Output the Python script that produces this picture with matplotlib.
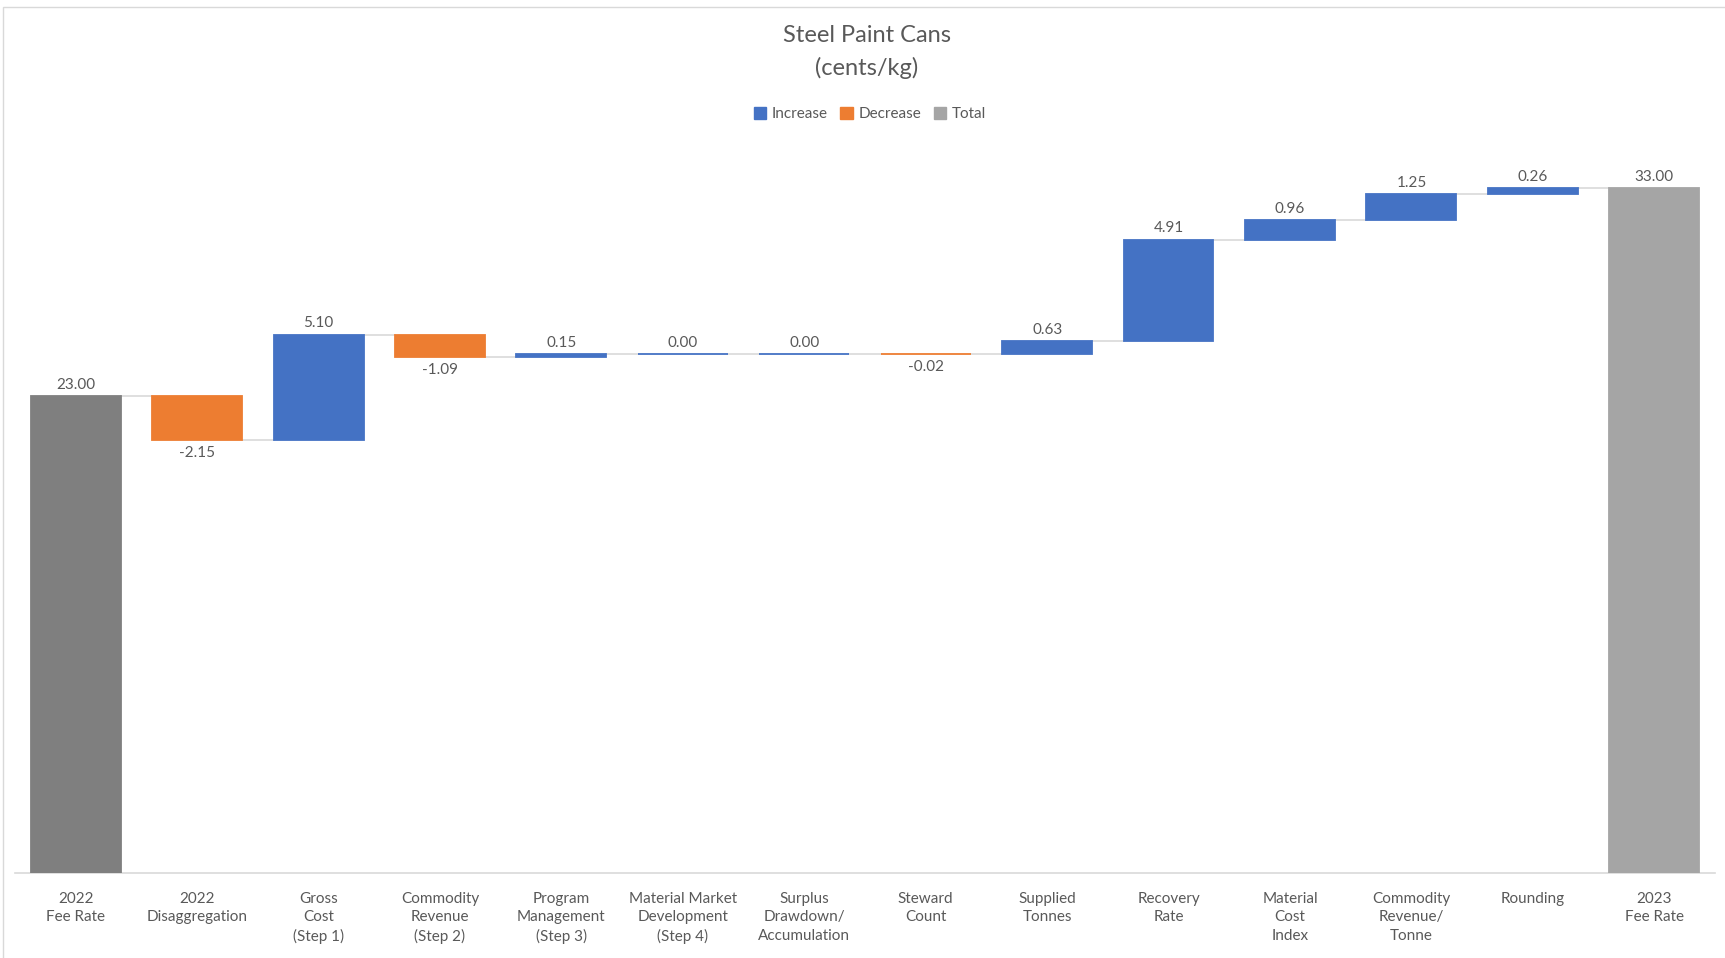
import matplotlib
matplotlib.use("Agg")
import matplotlib.pyplot as plt
import numpy as np
from matplotlib.patches import Rectangle, Patch

plt.rcParams['font.family'] = ['Lato', 'DejaVu Sans']

# data
categories = ["2022\nFee Rate", "2022\nDisaggregation", "Gross\nCost\n(Step 1)",
              "Commodity\nRevenue\n(Step 2)", "Program\nManagement\n(Step 3)",
              "Material Market\nDevelopment\n(Step 4)", "Surplus\nDrawdown/\nAccumulation",
              "Steward\nCount", "Supplied\nTonnes", "Recovery\nRate", "Material\nCost\nIndex",
              "Commodity\nRevenue/\nTonne", "Rounding", "2023\nFee Rate"]
values = [23.00, -2.15, 5.10, -1.09, 0.15, 0.00, 0.00, -0.02, 0.63, 4.91, 0.96, 1.25, 0.26, 33.00]
kinds = ["total", "dec", "inc", "dec", "inc", "inc", "inc", "dec", "inc", "inc", "inc", "inc", "inc", "total"]

c_inc = "#4472c4"
c_dec = "#ed7d31"
c_total_first = "#7f7f7f"
c_total = "#a5a5a5"
txt = "#595959"

W, H = 1725, 958
fig = plt.figure(figsize=(W / 100, H / 100), dpi=100)

# outer chart border (only top and left edges are inside the picture)
fig.patches.append(Rectangle((3 / W, -0.1), 1.2, 1.1 - 7 / H, transform=fig.transFigure,
                             fill=False, edgecolor="#d9d9d9", linewidth=1))

ax = fig.add_axes([15 / W, (H - 872.5) / H, 1700 / W, (872.5 - 147) / H])
ax.set_xlim(-0.5, len(values) - 0.5)
ax.set_ylim(0, 35)

bw = 0.74
running = 0.0
tops = []
for i, (v, k) in enumerate(zip(values, kinds)):
    if k == "total":
        bottom, height = 0, v
        col = c_total_first if i == 0 else c_total
        running = v
    else:
        if v >= 0:
            bottom, height = running, v
        else:
            bottom, height = running + v, -v
        col = c_inc if k == "inc" else c_dec
        running = running + v
    ax.bar(i, height, bottom=bottom, width=bw, color=col, edgecolor=col, linewidth=1.3, zorder=3)
    tops.append(running)
    lab = "%.2f" % v
    if k == "dec":
        ax.annotate(lab, (i, bottom), xytext=(0, -4), textcoords="offset points",
                    ha="center", va="top", fontsize=11, color=txt)
    else:
        ax.annotate(lab, (i, bottom + height), xytext=(0, 3), textcoords="offset points",
                    ha="center", va="bottom", fontsize=11, color=txt)

# connector lines
for i in range(len(values) - 1):
    ax.plot([i + bw / 2, i + 1 - bw / 2], [tops[i], tops[i]], color="#d9d9d9", linewidth=1.2, zorder=2)

for s in ["top", "right", "left"]:
    ax.spines[s].set_visible(False)
ax.spines["bottom"].set_color("#d9d9d9")
ax.spines["bottom"].set_linewidth(1.2)
ax.set_yticks([])
ax.set_xticks(range(len(categories)))
ax.set_xticklabels(categories, fontsize=11, color=txt, linespacing=1.4, va="top")
ax.tick_params(axis="x", length=0, pad=14)

fig.text(867 / W, 1 - 35 / H, "Steel Paint Cans", ha="center", va="center", fontsize=17, color=txt)
fig.text(867 / W, 1 - 68 / H, "(cents/kg)", ha="center", va="center", fontsize=17, color=txt)

handles = [Patch(color=c_inc, label="Increase"), Patch(color=c_dec, label="Decrease"),
           Patch(color=c_total, label="Total")]
fig.legend(handles=handles, loc="center", bbox_to_anchor=(870 / W, 1 - 114 / H), ncol=3,
           frameon=False, fontsize=11, labelcolor=txt, handlelength=0.8, handleheight=0.8,
           handletextpad=0.4, columnspacing=0.8)

fig.savefig("out.png", dpi=100)
